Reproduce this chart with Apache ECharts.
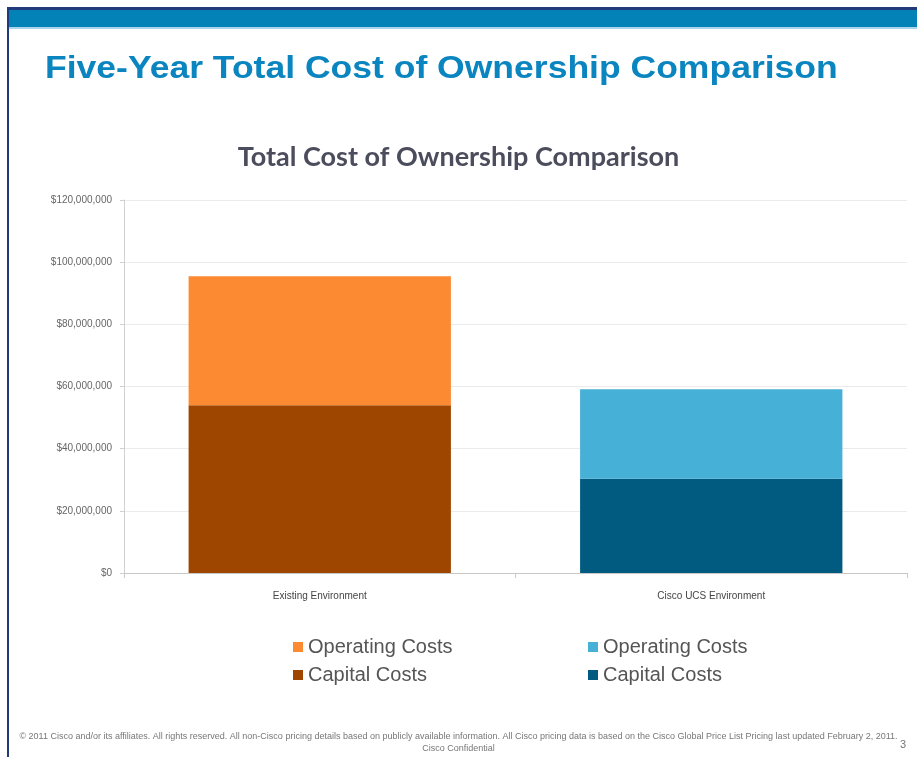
<!DOCTYPE html>
<html>
<head>
<meta charset="utf-8">
<script src="https://cdn.jsdelivr.net/npm/echarts@6/dist/echarts.min.js"></script>
<style>
    html,body{margin:0;padding:0;background:#fff}
    #chart{width:917px;height:757px}
</style>
</head>
<body>
<div id="chart"></div>
<script>
// categories and values (USD)
var categories = ['Existing Environment', 'Cisco UCS Environment'];
var existingCapital = [54000000, '-'];
var existingOperating = [41500000, '-'];
var ciscoCapital = ['-', 30300000];
var ciscoOperating = ['-', 28800000];

var legendLabels = {
    'Existing Operating': 'Operating Costs',
    'Existing Capital': 'Capital Costs',
    'Cisco Operating': 'Operating Costs',
    'Cisco Capital': 'Capital Costs'
};

function money(v){
    return '$' + String(v).replace(/\B(?=(\d{3})+(?!\d))/g, ',');
}

var myChart = echarts.init(document.getElementById('chart'));
myChart.setOption({
    animation:false,
    backgroundColor:'#fff',
    title:{
        text:'Total Cost of Ownership Comparison',
        left:'center',
        top:139,
        textStyle:{fontFamily:'Lato',fontSize:27,fontWeight:'bold',color:'#4b4d5c'}
    },
    graphic:[
        // slide frame
        {type:'rect',shape:{x:7,y:7,width:920,height:3},style:{fill:'#233a7a'}},
        {type:'rect',shape:{x:7,y:10,width:920,height:17},style:{fill:'#0382b7'}},
        {type:'rect',shape:{x:7,y:27,width:920,height:2},style:{fill:'#a9d4ea'}},
        {type:'rect',shape:{x:7,y:7,width:2,height:760},style:{fill:'#233a7a'}},
        {type:'text',x:45,y:53,scaleX:1.11,style:{text:'Five-Year Total Cost of Ownership Comparison',
            font:'bold 32px "Liberation Sans"',fill:'#0a85bf'}},
        {type:'text',left:'center',top:732,style:{text:'\u00a9 2011 Cisco and/or its affiliates. All rights reserved. All non-Cisco pricing details based on publicly available information. All Cisco pricing data is based on the Cisco Global Price List Pricing last updated February 2, 2011.',
            font:'9px "Liberation Sans"',fill:'#777'}},
        {type:'text',left:'center',top:744,style:{text:'Cisco Confidential',font:'9px "Liberation Sans"',fill:'#777'}},
        {type:'text',left:900,top:739,style:{text:'3',font:'11px "Liberation Sans"',fill:'#777'}}
    ],
    legend:[
        {
            data:['Existing Operating','Existing Capital'],
            orient:'vertical',left:288,top:632,itemGap:8,
            itemWidth:10,itemHeight:10,icon:'rect',
            formatter:function(n){return legendLabels[n]},
            textStyle:{fontFamily:'Liberation Sans',fontSize:20,color:'#555'}
        },
        {
            data:['Cisco Operating','Cisco Capital'],
            orient:'vertical',left:583,top:632,itemGap:8,
            itemWidth:10,itemHeight:10,icon:'rect',
            formatter:function(n){return legendLabels[n]},
            textStyle:{fontFamily:'Liberation Sans',fontSize:20,color:'#555'}
        }
    ],
    grid:{left:124,right:10,top:200,bottom:184},
    xAxis:{
        type:'category',
        data:categories,
        axisLine:{lineStyle:{color:'#c8c8c8'}},
        axisTick:{show:true,length:5,lineStyle:{color:'#c8c8c8'}},
        axisLabel:{fontFamily:'Liberation Sans',fontSize:10,color:'#444',margin:18}
    },
    yAxis:{
        type:'value',
        min:0,max:120000000,interval:20000000,
        axisLine:{show:true,lineStyle:{color:'#d0d0d0'}},
        axisTick:{show:true,length:4,lineStyle:{color:'#d0d0d0'}},
        splitLine:{lineStyle:{color:'#ebebeb'}},
        axisLabel:{fontFamily:'Liberation Sans',fontSize:10,color:'#666',margin:12,
            formatter:function(v){return money(v)}}
    },
    series:[
        {name:'Existing Capital',type:'bar',stack:'cost',barWidth:'67%',data:existingCapital,itemStyle:{color:'#9e4500'}},
        {name:'Cisco Capital',type:'bar',stack:'cost',data:ciscoCapital,itemStyle:{color:'#015a80'}},
        {name:'Existing Operating',type:'bar',stack:'cost',data:existingOperating,itemStyle:{color:'#fc8a33'}},
        {name:'Cisco Operating',type:'bar',stack:'cost',data:ciscoOperating,itemStyle:{color:'#46b0d6'}}
    ]
});
</script>
</body>
</html>
